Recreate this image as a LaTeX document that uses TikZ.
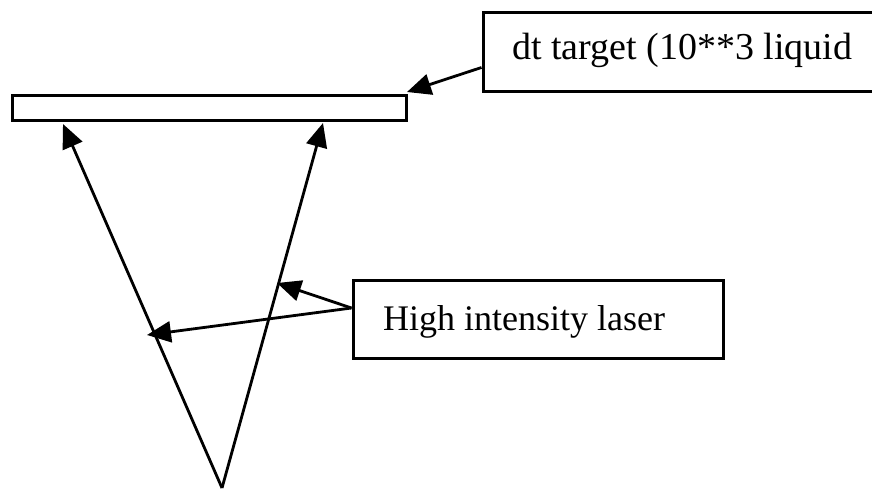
\documentclass[tikz,border=0pt]{standalone}
\usepackage{fontspec}
\setmainfont{Liberation Serif}
\usetikzlibrary{arrows.meta}
\begin{document}
\begin{tikzpicture}[x=1pt,y=-1pt,
  boxstyle/.style={draw, line width=3pt, rectangle, inner sep=0pt},
  lbl/.style={anchor=base west, inner sep=0pt},
  conn/.style={line width=2.8pt, -{Triangle[length=24pt,width=21pt]}}]
\clip (0,0) rectangle (872,492);
\useasboundingbox (0,0) rectangle (872,492);
% target bar
\node[boxstyle, minimum width=394pt, minimum height=25pt] (bar) at (209,108.5) {};
% label boxes
\node[boxstyle, minimum width=400pt, minimum height=79pt] (b1) at (683,52.5) {};
\node[lbl, font=\fontsize{38}{44}\selectfont] (t1) at (512,60) {dt target (10**3 liquid};
\node[boxstyle, minimum width=370pt, minimum height=78pt] (b2) at (538,319) {};
\node[lbl, font=\fontsize{36}{42}\selectfont] (t2) at (383,330) {High intensity laser};
% coordinates
\coordinate (apex) at (222,488);
\coordinate (tipL) at (63,124);
\coordinate (tipR) at (323,123);
\coordinate (tipT) at (407,92);
\coordinate (las1) at (147,335);
\coordinate (las2) at (277,283);
% connectors
\draw[conn] (apex) -- (tipL);
\draw[conn] (apex) -- (tipR);
\draw[conn] ([yshift=-15pt]b1.west) -- (tipT);
\draw[conn] ([yshift=11pt]b2.west) -- (las1);
\draw[conn] ([yshift=11pt]b2.west) -- (las2);
\end{tikzpicture}
\end{document}
